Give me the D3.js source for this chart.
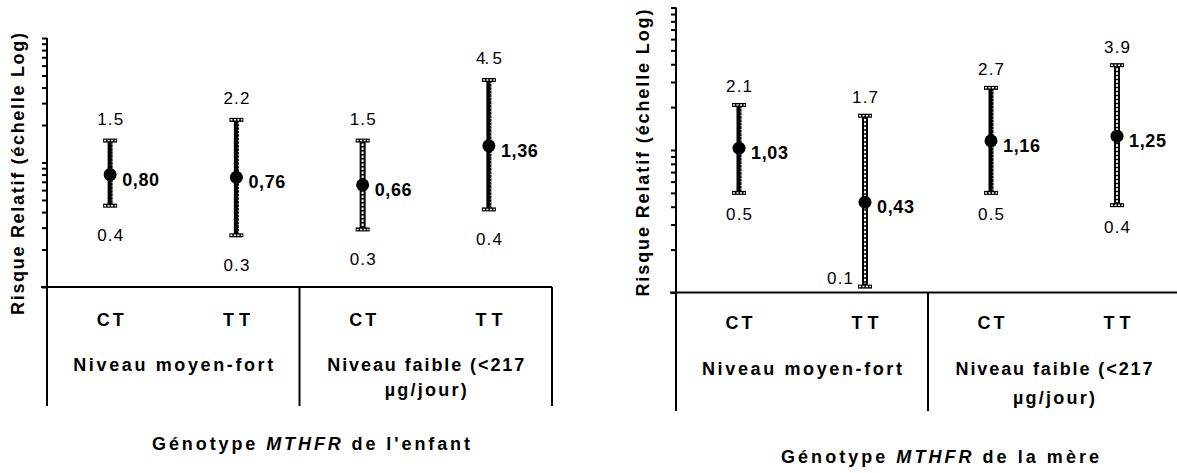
<!DOCTYPE html>
<html>
<head>
<meta charset="utf-8">
<script src="https://cdn.jsdelivr.net/npm/d3@7"></script>
<style>
  html, body { margin: 0; padding: 0; background: #fff; }
  svg { display: block; font-family: "Liberation Sans", Arial, sans-serif; }
</style>
</head>
<body>
<svg id="chart" width="1177" height="473"></svg>
<script>
// ---------- data ----------
const categories = ["CT", "TT", "CT", "TT"];
const groupLabels = [["Niveau moyen-fort"], ["Niveau faible (<217", "µg/jour)"]];
const yAxisTitle = "Risque Relatif (échelle Log)";

// Child genotype panel
const childRR = [0.80, 0.76, 0.66, 1.36];
const childLower = [0.45, 0.26, 0.29, 0.42];
const childUpper = [1.5, 2.2, 1.5, 4.6];
const childRRLabels = ["0,80", "0,76", "0,66", "1,36"];
const childLowerLabels = ["0.4", "0.3", "0.3", "0.4"];
const childUpperLabels = ["1.5", "2.2", "1.5", "4. 5"];
const childTitle = ["Génotype ", "MTHFR", " de l'enfant"];

// Mother genotype panel
const motherRR = [1.03, 0.43, 1.16, 1.25];
const motherLower = [0.50, 0.11, 0.50, 0.41];
const motherUpper = [2.07, 1.74, 2.73, 3.94];
const motherRRLabels = ["1,03", "0,43", "1,16", "1,25"];
const motherLowerLabels = ["0.5", "0.1", "0.5", "0.4"];
const motherUpperLabels = ["2.1", "1.7", "2.7", "3.9"];
const motherTitle = ["Génotype ", "MTHFR", " de la mère"];

const yDomain = [0.1, 10];

// ---------- styles / layout ----------
const childBarStyles = ["dark", "dark", "ladder", "dark"];
const motherBarStyles = ["dark", "ladder", "dark", "ladder"];

const svg = d3.select("#chart");

function txt(g, x, y, s, o) {
  const t = g.append("text")
    .attr("x", x).attr("y", y)
    .attr("text-anchor", o.anchor || "middle")
    .attr("dominant-baseline", "central")
    .attr("font-size", o.size)
    .attr("font-weight", o.weight || "normal")
    .attr("fill", "#000")
    .text(s);
  if (o.len) t.attr("textLength", o.len).attr("lengthAdjust", "spacing");
  if (o.transform) t.attr("transform", o.transform);
  return t;
}

function drawBar(g, x, yTop, yBot, style) {
  const w = style === "ladder" ? 6 : 5;
  g.append("rect").attr("x", x - w / 2).attr("y", yTop).attr("width", w).attr("height", yBot - yTop).attr("fill", "#000");
  if (style === "ladder") {
    g.append("line").attr("x1", x).attr("x2", x).attr("y1", yTop + 3).attr("y2", yBot - 3)
      .attr("stroke", "#fff").attr("stroke-width", 2).attr("stroke-dasharray", "2.5,1.5");
  } else {
    g.append("line").attr("x1", x + 2).attr("x2", x + 2).attr("y1", yTop + 3).attr("y2", yBot - 3)
      .attr("stroke", "#fff").attr("stroke-width", 1).attr("stroke-dasharray", "1,2.5");
  }
  [yTop, yBot].forEach(yy => {
    g.append("rect").attr("x", x - 7).attr("y", yy - 2).attr("width", 14).attr("height", 4).attr("fill", "#000");
    g.append("line").attr("x1", x - 6).attr("x2", x + 6).attr("y1", yy).attr("y2", yy)
      .attr("stroke", "#fff").attr("stroke-width", 1.5).attr("stroke-dasharray", "2,1.5");
  });
}

function panel(cfg) {
  const g = svg.append("g");
  const y = d3.scaleLog().domain(yDomain).range(cfg.yRange);
  const x = d3.scalePoint().domain(d3.range(categories.length)).range(cfg.xRange).padding(0.5);
  const baseY = y(yDomain[0]);

  // y axis with log ticks (no labels)
  const axis = d3.axisLeft(y).tickValues(y.ticks()).tickFormat("").tickSize(5).tickSizeOuter(0);
  const ag = g.append("g").attr("transform", `translate(${cfg.axisX},0)`).call(axis);
  ag.select(".domain").remove();
  ag.selectAll(".tick line").attr("stroke", "#000").attr("stroke-width", 2);

  // frame lines
  const sepX = (x(1) + x(2)) / 2;
  const line = (x1, y1, x2, y2) => g.append("line").attr("x1", x1).attr("y1", y1).attr("x2", x2).attr("y2", y2)
    .attr("stroke", "#000").attr("stroke-width", 2);
  line(cfg.axisX, y(yDomain[1]), cfg.axisX, cfg.bottom);
  line(cfg.axisX - 6, baseY, cfg.rightX, baseY);
  line(sepX, baseY, sepX, cfg.bottom);
  if (cfg.rightBorder) line(cfg.rightX, baseY, cfg.rightX, cfg.bottom);

  // y axis title
  txt(g, cfg.titleX, cfg.titleY, yAxisTitle, {size: 18, weight: "bold", len: cfg.titleLen,
    transform: `rotate(-90 ${cfg.titleX} ${cfg.titleY})`});

  // error bars, points, labels
  categories.forEach((c, i) => {
    const cx = x(i);
    const yU = y(cfg.upper[i]), yL = y(cfg.lower[i]), yP = y(cfg.rr[i]);
    drawBar(g, cx, yU, yL, cfg.styles[i]);
    g.append("circle").attr("cx", cx).attr("cy", yP).attr("r", 6.5).attr("fill", "#000");
    txt(g, cx + 12, yP + 5, cfg.rrLabels[i], {size: 18, weight: "bold", anchor: "start", len: 37});
    txt(g, cx, yU - cfg.upOff, cfg.upperLabels[i], {size: 17, len: 26});
    if (yL + cfg.lowOff > baseY - 6) {
      txt(g, cx - 12, yL - 8, cfg.lowerLabels[i], {size: 17, anchor: "end", len: 26});
    } else {
      txt(g, cx, yL + cfg.lowOff, cfg.lowerLabels[i], {size: 17, len: 26});
    }
    // category label
    txt(g, cx, cfg.catY, c, {size: 18, weight: "bold", len: 27});
  });

  // group labels
  const g1x = (cfg.axisX + sepX) / 2;
  const g2x = (sepX + cfg.groupRight) / 2;
  txt(g, g1x, cfg.grpY, groupLabels[0][0], {size: 18, weight: "bold", len: 200});
  txt(g, g2x, cfg.grpY, groupLabels[1][0], {size: 18, weight: "bold", len: 197});
  txt(g, g2x, cfg.grpY2, groupLabels[1][1], {size: 18, weight: "bold", len: 82});

  // panel title with italic gene name
  const t = g.append("text").attr("x", cfg.mainX).attr("y", cfg.mainY)
    .attr("text-anchor", "middle").attr("dominant-baseline", "central")
    .attr("font-size", 18).attr("font-weight", "bold")
    .attr("textLength", 318).attr("lengthAdjust", "spacing");
  t.append("tspan").text(cfg.title[0]);
  t.append("tspan").attr("font-style", "italic").text(cfg.title[1]);
  t.append("tspan").text(cfg.title[2]);
}

panel({
  rr: childRR, lower: childLower, upper: childUpper,
  rrLabels: childRRLabels, lowerLabels: childLowerLabels, upperLabels: childUpperLabels,
  styles: childBarStyles, title: childTitle,
  axisX: 47, xRange: [47, 552], yRange: [287, 38], rightX: 552, rightBorder: true, groupRight: 552,
  bottom: 406, upOff: 21, lowOff: 30,
  titleX: 18, titleY: 174, titleLen: 282,
  catY: 320, grpY: 365, grpY2: 390, mainX: 311, mainY: 444
});

panel({
  rr: motherRR, lower: motherLower, upper: motherUpper,
  rrLabels: motherRRLabels, lowerLabels: motherLowerLabels, upperLabels: motherUpperLabels,
  styles: motherBarStyles, title: motherTitle,
  axisX: 676, xRange: [676, 1180], yRange: [292.5, 7.5], rightX: 1177, rightBorder: false, groupRight: 1180,
  bottom: 411, upOff: 18, lowOff: 22,
  titleX: 643, titleY: 153, titleLen: 287,
  catY: 323, grpY: 369, grpY2: 398, mainX: 940, mainY: 457
});
</script>
</body>
</html>
